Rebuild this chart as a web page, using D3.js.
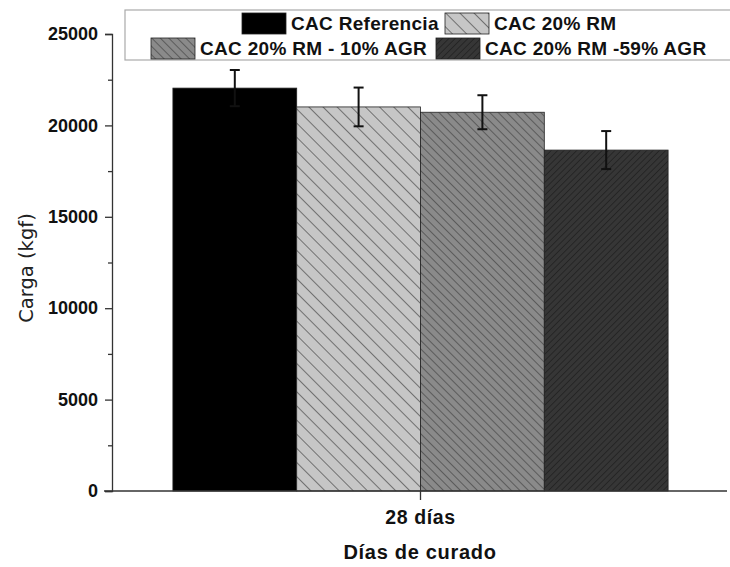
<!DOCTYPE html>
<html>
<head>
<meta charset="utf-8">
<script src="https://cdn.jsdelivr.net/npm/d3@7"></script>
<style>
  body { margin: 0; background: #fff; }
  text { font-family: "Liberation Sans", Arial, sans-serif; }
</style>
</head>
<body>
<div id="chart"></div>
<script>
// data
const categories = ['28 días'];
const series = ['CAC Referencia', 'CAC 20% RM', 'CAC 20% RM - 10% AGR', 'CAC 20% RM -59% AGR'];
const values = [22040, 21010, 20720, 18650];
const errors = [990, 1060, 930, 1040];
const yTicks = [0, 5000, 10000, 15000, 20000, 25000];

const width = 730, height = 567;
const svg = d3.select('#chart').append('svg')
  .attr('width', width)
  .attr('height', height);

// hatch patterns
const defs = svg.append('defs');
function hatch(id, bg, line, gap, angle, sw) {
  const p = defs.append('pattern')
    .attr('id', id)
    .attr('patternUnits', 'userSpaceOnUse')
    .attr('width', gap)
    .attr('height', gap)
    .attr('patternTransform', 'rotate(' + angle + ')');
  p.append('rect').attr('width', gap).attr('height', gap).attr('fill', bg);
  p.append('line')
    .attr('x1', 0).attr('y1', 0).attr('x2', 0).attr('y2', gap)
    .attr('stroke', line).attr('stroke-width', sw);
}
hatch('h1', '#c6c6c6', '#5a5a5a', 10, -45, 1.6);
hatch('h2', '#8a8a8a', '#474747', 6, -45, 1.4);
hatch('h3', '#363636', '#1c1c1c', 4.5, 45, 1.3);

const fills = ['#000', 'url(#h1)', 'url(#h2)', 'url(#h3)'];

const x0 = d3.scaleBand().domain(categories).range([112, 729]).paddingInner(0).paddingOuter(0.123);
const x1 = d3.scaleBand().domain(series).range([0, x0.bandwidth()]).padding(0);
const y = d3.scaleLinear().domain([0, 25000]).range([491, 34]);

// bars
const g = svg.append('g');
const groups = g.selectAll('g.grp').data(categories).join('g')
  .attr('transform', d => 'translate(' + x0(d) + ',0)');

groups.selectAll('rect').data(series.map((s, i) => ({ s, v: values[i], e: errors[i], i })))
  .join('rect')
  .attr('x', d => x1(d.s))
  .attr('y', d => y(d.v))
  .attr('width', x1.bandwidth())
  .attr('height', d => y(0) - y(d.v))
  .attr('fill', d => fills[d.i])
  .attr('stroke', '#222')
  .attr('stroke-width', 0.8);

// error bars
const eb = groups.selectAll('g.err').data(series.map((s, i) => ({ s, v: values[i], e: errors[i] })))
  .join('g').attr('class', 'err');
eb.append('line')
  .attr('x1', d => x1(d.s) + x1.bandwidth() / 2)
  .attr('x2', d => x1(d.s) + x1.bandwidth() / 2)
  .attr('y1', d => y(d.v + d.e))
  .attr('y2', d => y(d.v - d.e))
  .attr('stroke', '#111').attr('stroke-width', 2);
[1, -1].forEach(sgn => {
  eb.append('line')
    .attr('x1', d => x1(d.s) + x1.bandwidth() / 2 - 5)
    .attr('x2', d => x1(d.s) + x1.bandwidth() / 2 + 5)
    .attr('y1', d => y(d.v + sgn * d.e))
    .attr('y2', d => y(d.v + sgn * d.e))
    .attr('stroke', '#111').attr('stroke-width', 2);
});

// y axis
const yAxis = svg.append('g')
  .attr('transform', 'translate(112,0)')
  .call(d3.axisLeft(y).tickValues(yTicks).tickSize(7).tickPadding(7).tickFormat(d3.format('d')));
svg.append('g')
  .attr('transform', 'translate(112,0)')
  .call(d3.axisLeft(y).tickValues(yTicks.slice(0, -1).map(t => t + 2500)).tickSize(4).tickFormat(''))
  .call(a => a.select('.domain').remove());
yAxis.selectAll('text')
  .style('font-size', '18px').style('font-weight', 'bold').attr('fill', '#111');
svg.selectAll('.domain, .tick line').attr('stroke', '#333').attr('stroke-width', 1.3);

// x axis
const xAxis = svg.append('g')
  .attr('transform', 'translate(0,491)')
  .call(d3.axisBottom(x0).tickSize(9).tickPadding(10).tickSizeOuter(0));
xAxis.select('.domain').attr('d', 'M104,0H727').attr('stroke', '#333').attr('stroke-width', 1.3);
xAxis.selectAll('.tick line').attr('stroke', '#333').attr('stroke-width', 1.3);
xAxis.selectAll('text')
  .style('font-size', '19.5px').style('font-weight', 'bold')
  .style('letter-spacing', '0.6px').attr('fill', '#111');

// axis titles
svg.append('text')
  .attr('transform', 'translate(33,268) rotate(-90)')
  .attr('text-anchor', 'middle')
  .style('font-family', '"DejaVu Sans", sans-serif')
  .style('font-size', '19.5px')
  .attr('fill', '#222')
  .text('Carga (kgf)');
svg.append('text')
  .attr('x', 420).attr('y', 559)
  .attr('text-anchor', 'middle')
  .style('font-size', '20px').style('font-weight', 'bold')
  .style('letter-spacing', '0.7px')
  .attr('fill', '#111')
  .text('Días de curado');

// legend
const leg = svg.append('g');
leg.append('rect')
  .attr('x', 125).attr('y', 10).attr('width', 620).attr('height', 50)
  .attr('fill', '#fff').attr('stroke', '#aaa').attr('stroke-width', 1.2);
const legPos = [
  { x: 242, y: 13 }, { x: 445, y: 13 },
  { x: 151, y: 38 }, { x: 436, y: 38 }
];
const li = leg.selectAll('g.li').data(series).join('g')
  .attr('transform', (d, i) => 'translate(' + legPos[i].x + ',' + legPos[i].y + ')');
li.append('rect')
  .attr('width', 44).attr('height', 21)
  .attr('fill', (d, i) => fills[i])
  .attr('stroke', '#222').attr('stroke-width', 0.8);
li.append('text')
  .attr('x', 49).attr('y', 10.5).attr('dy', '0.35em')
  .style('font-size', '19px').style('font-weight', 'bold')
  .style('letter-spacing', '0.3px')
  .attr('fill', '#111')
  .text(d => d);
</script>
</body>
</html>
